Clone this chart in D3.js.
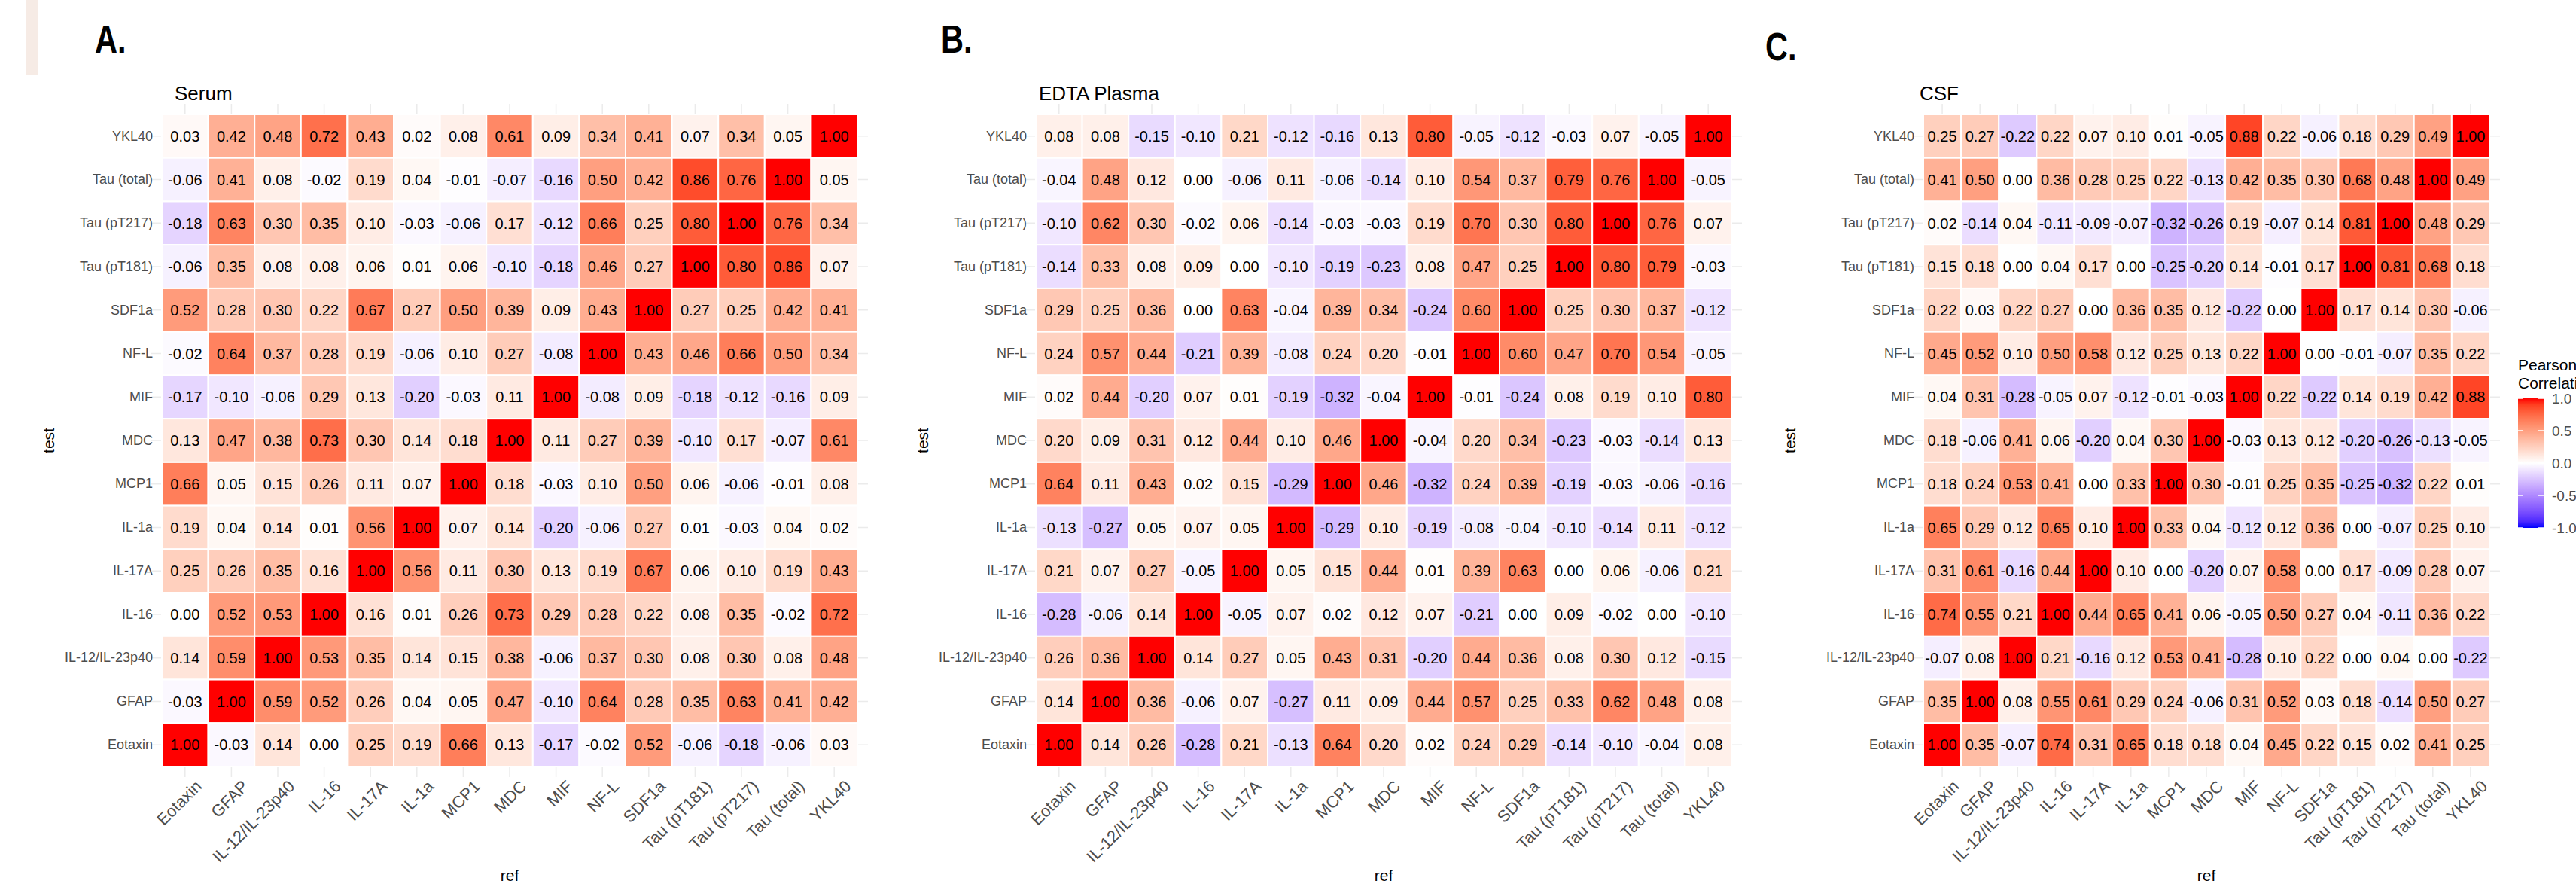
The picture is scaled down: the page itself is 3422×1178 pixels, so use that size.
<!DOCTYPE html>
<html lang="en">
<head>
<meta charset="utf-8">
<style>
  body { margin: 0; background: #fff; }
  svg { display: block; font-family: "Liberation Sans", Arial, sans-serif; }
</style>
</head>
<body>
<div id="chart"></div>
<script src="https://cdn.jsdelivr.net/npm/d3@7"></script>
<script>
// columns (ref), left to right
var refLabels = ["Eotaxin", "GFAP", "IL-12/IL-23p40", "IL-16", "IL-17A", "IL-1a", "MCP1",
    "MDC", "MIF", "NF-L", "SDF1a", "Tau (pT181)", "Tau (pT217)", "Tau (total)", "YKL40"];
// rows (test), top to bottom
var testLabels = ["YKL40", "Tau (total)", "Tau (pT217)", "Tau (pT181)", "SDF1a", "NF-L", "MIF",
    "MDC", "MCP1", "IL-1a", "IL-17A", "IL-16", "IL-12/IL-23p40", "GFAP", "Eotaxin"];

var serum = [
    [0.03, 0.42, 0.48, 0.72, 0.43, 0.02, 0.08, 0.61, 0.09, 0.34, 0.41, 0.07, 0.34, 0.05, 1.00],
    [-0.06, 0.41, 0.08, -0.02, 0.19, 0.04, -0.01, -0.07, -0.16, 0.50, 0.42, 0.86, 0.76, 1.00, 0.05],
    [-0.18, 0.63, 0.30, 0.35, 0.10, -0.03, -0.06, 0.17, -0.12, 0.66, 0.25, 0.80, 1.00, 0.76, 0.34],
    [-0.06, 0.35, 0.08, 0.08, 0.06, 0.01, 0.06, -0.10, -0.18, 0.46, 0.27, 1.00, 0.80, 0.86, 0.07],
    [0.52, 0.28, 0.30, 0.22, 0.67, 0.27, 0.50, 0.39, 0.09, 0.43, 1.00, 0.27, 0.25, 0.42, 0.41],
    [-0.02, 0.64, 0.37, 0.28, 0.19, -0.06, 0.10, 0.27, -0.08, 1.00, 0.43, 0.46, 0.66, 0.50, 0.34],
    [-0.17, -0.10, -0.06, 0.29, 0.13, -0.20, -0.03, 0.11, 1.00, -0.08, 0.09, -0.18, -0.12, -0.16, 0.09],
    [0.13, 0.47, 0.38, 0.73, 0.30, 0.14, 0.18, 1.00, 0.11, 0.27, 0.39, -0.10, 0.17, -0.07, 0.61],
    [0.66, 0.05, 0.15, 0.26, 0.11, 0.07, 1.00, 0.18, -0.03, 0.10, 0.50, 0.06, -0.06, -0.01, 0.08],
    [0.19, 0.04, 0.14, 0.01, 0.56, 1.00, 0.07, 0.14, -0.20, -0.06, 0.27, 0.01, -0.03, 0.04, 0.02],
    [0.25, 0.26, 0.35, 0.16, 1.00, 0.56, 0.11, 0.30, 0.13, 0.19, 0.67, 0.06, 0.10, 0.19, 0.43],
    [0.00, 0.52, 0.53, 1.00, 0.16, 0.01, 0.26, 0.73, 0.29, 0.28, 0.22, 0.08, 0.35, -0.02, 0.72],
    [0.14, 0.59, 1.00, 0.53, 0.35, 0.14, 0.15, 0.38, -0.06, 0.37, 0.30, 0.08, 0.30, 0.08, 0.48],
    [-0.03, 1.00, 0.59, 0.52, 0.26, 0.04, 0.05, 0.47, -0.10, 0.64, 0.28, 0.35, 0.63, 0.41, 0.42],
    [1.00, -0.03, 0.14, 0.00, 0.25, 0.19, 0.66, 0.13, -0.17, -0.02, 0.52, -0.06, -0.18, -0.06, 0.03]
];

var plasma = [
    [0.08, 0.08, -0.15, -0.10, 0.21, -0.12, -0.16, 0.13, 0.80, -0.05, -0.12, -0.03, 0.07, -0.05, 1.00],
    [-0.04, 0.48, 0.12, 0.00, -0.06, 0.11, -0.06, -0.14, 0.10, 0.54, 0.37, 0.79, 0.76, 1.00, -0.05],
    [-0.10, 0.62, 0.30, -0.02, 0.06, -0.14, -0.03, -0.03, 0.19, 0.70, 0.30, 0.80, 1.00, 0.76, 0.07],
    [-0.14, 0.33, 0.08, 0.09, 0.00, -0.10, -0.19, -0.23, 0.08, 0.47, 0.25, 1.00, 0.80, 0.79, -0.03],
    [0.29, 0.25, 0.36, 0.00, 0.63, -0.04, 0.39, 0.34, -0.24, 0.60, 1.00, 0.25, 0.30, 0.37, -0.12],
    [0.24, 0.57, 0.44, -0.21, 0.39, -0.08, 0.24, 0.20, -0.01, 1.00, 0.60, 0.47, 0.70, 0.54, -0.05],
    [0.02, 0.44, -0.20, 0.07, 0.01, -0.19, -0.32, -0.04, 1.00, -0.01, -0.24, 0.08, 0.19, 0.10, 0.80],
    [0.20, 0.09, 0.31, 0.12, 0.44, 0.10, 0.46, 1.00, -0.04, 0.20, 0.34, -0.23, -0.03, -0.14, 0.13],
    [0.64, 0.11, 0.43, 0.02, 0.15, -0.29, 1.00, 0.46, -0.32, 0.24, 0.39, -0.19, -0.03, -0.06, -0.16],
    [-0.13, -0.27, 0.05, 0.07, 0.05, 1.00, -0.29, 0.10, -0.19, -0.08, -0.04, -0.10, -0.14, 0.11, -0.12],
    [0.21, 0.07, 0.27, -0.05, 1.00, 0.05, 0.15, 0.44, 0.01, 0.39, 0.63, 0.00, 0.06, -0.06, 0.21],
    [-0.28, -0.06, 0.14, 1.00, -0.05, 0.07, 0.02, 0.12, 0.07, -0.21, 0.00, 0.09, -0.02, 0.00, -0.10],
    [0.26, 0.36, 1.00, 0.14, 0.27, 0.05, 0.43, 0.31, -0.20, 0.44, 0.36, 0.08, 0.30, 0.12, -0.15],
    [0.14, 1.00, 0.36, -0.06, 0.07, -0.27, 0.11, 0.09, 0.44, 0.57, 0.25, 0.33, 0.62, 0.48, 0.08],
    [1.00, 0.14, 0.26, -0.28, 0.21, -0.13, 0.64, 0.20, 0.02, 0.24, 0.29, -0.14, -0.10, -0.04, 0.08]
];

var csf = [
    [0.25, 0.27, -0.22, 0.22, 0.07, 0.10, 0.01, -0.05, 0.88, 0.22, -0.06, 0.18, 0.29, 0.49, 1.00],
    [0.41, 0.50, 0.00, 0.36, 0.28, 0.25, 0.22, -0.13, 0.42, 0.35, 0.30, 0.68, 0.48, 1.00, 0.49],
    [0.02, -0.14, 0.04, -0.11, -0.09, -0.07, -0.32, -0.26, 0.19, -0.07, 0.14, 0.81, 1.00, 0.48, 0.29],
    [0.15, 0.18, 0.00, 0.04, 0.17, 0.00, -0.25, -0.20, 0.14, -0.01, 0.17, 1.00, 0.81, 0.68, 0.18],
    [0.22, 0.03, 0.22, 0.27, 0.00, 0.36, 0.35, 0.12, -0.22, 0.00, 1.00, 0.17, 0.14, 0.30, -0.06],
    [0.45, 0.52, 0.10, 0.50, 0.58, 0.12, 0.25, 0.13, 0.22, 1.00, 0.00, -0.01, -0.07, 0.35, 0.22],
    [0.04, 0.31, -0.28, -0.05, 0.07, -0.12, -0.01, -0.03, 1.00, 0.22, -0.22, 0.14, 0.19, 0.42, 0.88],
    [0.18, -0.06, 0.41, 0.06, -0.20, 0.04, 0.30, 1.00, -0.03, 0.13, 0.12, -0.20, -0.26, -0.13, -0.05],
    [0.18, 0.24, 0.53, 0.41, 0.00, 0.33, 1.00, 0.30, -0.01, 0.25, 0.35, -0.25, -0.32, 0.22, 0.01],
    [0.65, 0.29, 0.12, 0.65, 0.10, 1.00, 0.33, 0.04, -0.12, 0.12, 0.36, 0.00, -0.07, 0.25, 0.10],
    [0.31, 0.61, -0.16, 0.44, 1.00, 0.10, 0.00, -0.20, 0.07, 0.58, 0.00, 0.17, -0.09, 0.28, 0.07],
    [0.74, 0.55, 0.21, 1.00, 0.44, 0.65, 0.41, 0.06, -0.05, 0.50, 0.27, 0.04, -0.11, 0.36, 0.22],
    [-0.07, 0.08, 1.00, 0.21, -0.16, 0.12, 0.53, 0.41, -0.28, 0.10, 0.22, 0.00, 0.04, 0.00, -0.22],
    [0.35, 1.00, 0.08, 0.55, 0.61, 0.29, 0.24, -0.06, 0.31, 0.52, 0.03, 0.18, -0.14, 0.50, 0.27],
    [1.00, 0.35, -0.07, 0.74, 0.31, 0.65, 0.18, 0.18, 0.04, 0.45, 0.22, 0.15, 0.02, 0.41, 0.25]
];

var legendTicks = [1.0, 0.5, 0.0, -0.5, -1.0];

var width = 3422, height = 1178;
var gridTop = 152, gridBottom = 1018;

var panels = [
    {tag: "A.", title: "Serum", values: serum, left: 215, right: 1139, titleX: 232, testX: 72, tagX: 126, tagY: 70},
    {tag: "B.", title: "EDTA Plasma", values: plasma, left: 1376, right: 2300, titleX: 1380, testX: 1233, tagX: 1250, tagY: 70},
    {tag: "C.", title: "CSF", values: csf, left: 2555, right: 3307, titleX: 2550, testX: 2385, tagX: 2345, tagY: 80}
];

var color = d3.scaleLinear()
    .domain([-1, 0, 1])
    .range(["blue", "white", "red"])
    .interpolate(d3.interpolateLab);

var svg = d3.select("#chart").append("svg")
    .attr("width", width)
    .attr("height", height);

svg.append("rect").attr("width", width).attr("height", height).attr("fill", "#fff");

// faint strip at the left edge of the figure
svg.append("rect").attr("x", 35).attr("y", 0).attr("width", 15).attr("height", 100).attr("fill", "#f6ebe5");

panels.forEach(function (p) {
    var g = svg.append("g");
    var x = d3.scaleBand().domain(refLabels).range([p.left, p.right]);
    var y = d3.scaleBand().domain(testLabels).range([gridTop, gridBottom]);
    var bw = x.bandwidth(), bh = y.bandwidth();

    // background grid lines (theme_minimal)
    g.selectAll(".vgrid").data(refLabels).enter().append("line")
        .attr("x1", function (d) { return x(d) + bw / 2; })
        .attr("x2", function (d) { return x(d) + bw / 2; })
        .attr("y1", gridTop - 14).attr("y2", gridBottom + 14)
        .attr("stroke", "#ebebeb").attr("stroke-width", 1.5);
    g.selectAll(".hgrid").data(testLabels).enter().append("line")
        .attr("y1", function (d) { return y(d) + bh / 2; })
        .attr("y2", function (d) { return y(d) + bh / 2; })
        .attr("x1", p.left - 14).attr("x2", p.right + 14)
        .attr("stroke", "#ebebeb").attr("stroke-width", 1.5);

    var cells = [];
    p.values.forEach(function (row, i) {
        row.forEach(function (v, j) {
            cells.push({test: testLabels[i], ref: refLabels[j], value: v});
        });
    });

    g.selectAll(".tile").data(cells).enter().append("rect")
        .attr("x", function (d) { return x(d.ref); })
        .attr("y", function (d) { return y(d.test); })
        .attr("width", bw).attr("height", bh)
        .attr("fill", function (d) { return color(d.value); })
        .attr("stroke", "#fff").attr("stroke-width", 2);

    g.selectAll(".val").data(cells).enter().append("text")
        .attr("x", function (d) { return x(d.ref) + bw / 2; })
        .attr("y", function (d) { return y(d.test) + bh / 2; })
        .attr("dy", "0.36em")
        .attr("text-anchor", "middle")
        .attr("font-size", 20)
        .attr("fill", "#000")
        .text(function (d) { return d.value.toFixed(2); });

    // y axis
    var ya = g.append("g")
        .attr("transform", "translate(" + p.left + ",0)")
        .call(d3.axisLeft(y).tickSize(0).tickPadding(12));
    ya.select(".domain").remove();
    ya.selectAll("text").attr("font-size", 18).attr("fill", "#4d4d4d")
        .attr("font-family", "Liberation Sans, Arial, sans-serif");

    // x axis, rotated labels
    var xa = g.append("g")
        .attr("transform", "translate(0," + gridBottom + ")")
        .call(d3.axisBottom(x).tickSize(0));
    xa.select(".domain").remove();
    xa.selectAll("text")
        .attr("font-size", 22).attr("fill", "#4d4d4d")
        .attr("font-family", "Liberation Sans, Arial, sans-serif")
        .attr("x", 0).attr("y", 0).attr("dy", "0.75em")
        .attr("text-anchor", "end")
        .attr("transform", "translate(12,16) rotate(-45)");

    // axis titles
    g.append("text")
        .attr("x", (p.left + p.right) / 2).attr("y", 1170)
        .attr("text-anchor", "middle").attr("font-size", 21)
        .text("ref");
    g.append("text")
        .attr("transform", "translate(" + p.testX + "," + ((gridTop + gridBottom) / 2) + ") rotate(-90)")
        .attr("text-anchor", "middle").attr("font-size", 21)
        .text("test");

    // panel title and tag
    g.append("text")
        .attr("x", p.titleX).attr("y", 133)
        .attr("font-size", 26)
        .text(p.title);
    g.append("text")
        .attr("transform", "translate(" + p.tagX + "," + p.tagY + ") scale(0.8,1)")
        .attr("font-size", 52).attr("font-weight", "bold")
        .text(p.tag);
});

// legend (only the last panel shows one)
var lg = svg.append("g");
var barX = 3345, barW = 34, barTop = 529, barBottom = 701;
var ly = d3.scaleLinear().domain([-1, 1]).range([barBottom, barTop]);

var grad = svg.append("defs").append("linearGradient")
    .attr("id", "corrGrad")
    .attr("x1", 0).attr("y1", 1).attr("x2", 0).attr("y2", 0);
d3.range(0, 1.0001, 0.05).forEach(function (t) {
    grad.append("stop").attr("offset", t).attr("stop-color", color(-1 + 2 * t));
});

lg.append("rect")
    .attr("x", barX).attr("y", barTop)
    .attr("width", barW).attr("height", barBottom - barTop)
    .attr("fill", "url(#corrGrad)");

lg.selectAll(".ltick").data(legendTicks).enter().append("g")
    .each(function (d) {
        var t = d3.select(this);
        t.append("line").attr("x1", barX).attr("x2", barX + 7)
            .attr("y1", ly(d)).attr("y2", ly(d)).attr("stroke", "#fff").attr("stroke-width", 1.5);
        t.append("line").attr("x1", barX + barW - 7).attr("x2", barX + barW)
            .attr("y1", ly(d)).attr("y2", ly(d)).attr("stroke", "#fff").attr("stroke-width", 1.5);
        t.append("text").attr("x", barX + barW + 11).attr("y", ly(d)).attr("dy", "0.36em")
            .attr("font-size", 19).attr("fill", "#4d4d4d")
            .text(d.toFixed(1));
    });

lg.append("text").attr("x", barX).attr("y", 492).attr("font-size", 21).text("Pearson");
lg.append("text").attr("x", barX).attr("y", 516).attr("font-size", 21).text("Correlation");
</script>
</body>
</html>
